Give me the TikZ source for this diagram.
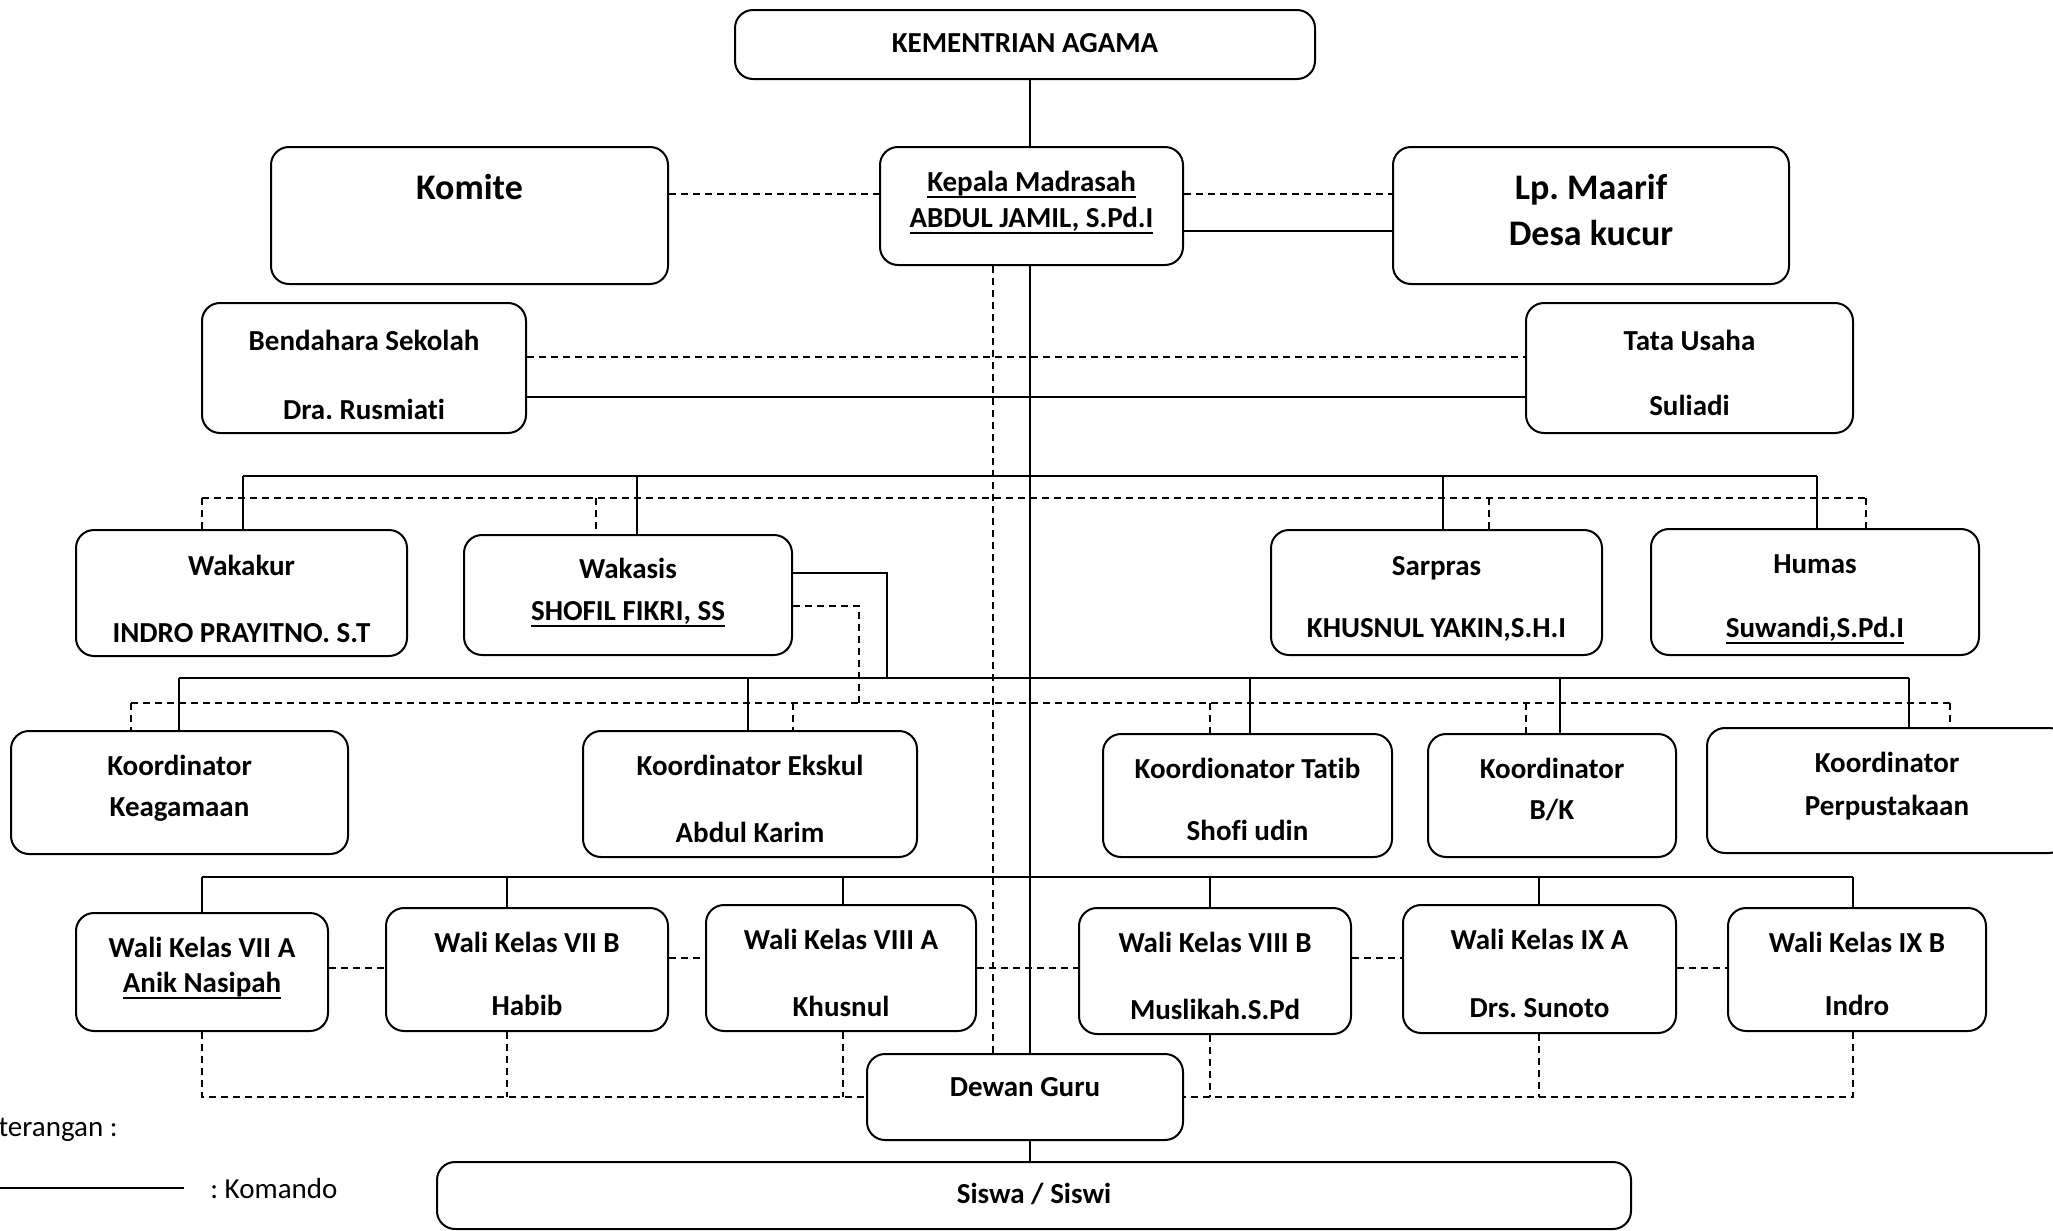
\documentclass[tikz,border=0pt]{standalone}
\usepackage{fontspec}
\setmainfont[Ligatures=NoCommon]{Carlito}
\frenchspacing
\newcommand{\garisbawah}[1]{\setbox0\hbox{#1}\rlap{\vrule height -2.4pt depth 3.3pt width \wd0}\box0}
\begin{document}
\begin{tikzpicture}[x=0.5pt, y=-0.5pt,
    box/.style={draw, line width=1pt, rounded corners=9pt, inner sep=0pt},
    txt/.style={anchor=base, inner sep=0pt, font=\fontsize{14.5}{17}\selectfont\bfseries},
    besar/.style={txt, font=\fontsize{18}{21}\selectfont\bfseries},
    biasa/.style={txt, font=\fontsize{14.5}{17}\selectfont},
    garis/.style={line width=0.7pt},
    putus/.style={line width=0.6pt, dash pattern=on 3.5pt off 2.5pt}]
  \useasboundingbox (0,0) rectangle (2053,1231);
  % kotak
  \node[box, minimum width=290pt, minimum height=34.5pt] (kemenag) at (1025,44.5) {};
  \node[box, minimum width=151.5pt, minimum height=59pt] (kepala) at (1031.5,206) {};
  \node[box, minimum width=198.5pt, minimum height=68.5pt] (komite) at (469.5,215.5) {};
  \node[box, minimum width=198pt, minimum height=68.5pt] (maarif) at (1591,215.5) {};
  \node[box, minimum width=162pt, minimum height=65pt] (bendahara) at (364,368) {};
  \node[box, minimum width=163.5pt, minimum height=65pt] (tu) at (1689.5,368) {};
  \node[box, minimum width=165.5pt, minimum height=63pt] (wakakur) at (241.5,593) {};
  \node[box, minimum width=164pt, minimum height=60pt] (wakasis) at (628,595) {};
  \node[box, minimum width=165.5pt, minimum height=62.5pt] (sarpras) at (1436.5,592.5) {};
  \node[box, minimum width=164pt, minimum height=63pt] (humas) at (1815,592) {};
  \node[box, minimum width=168.5pt, minimum height=61.5pt] (keagamaan) at (179.5,792.5) {};
  \node[box, minimum width=167pt, minimum height=63pt] (ekskul) at (750,794) {};
  \node[box, minimum width=144.5pt, minimum height=61.5pt] (tatib) at (1247.5,795.5) {};
  \node[box, minimum width=124pt, minimum height=61.5pt] (bk) at (1552,795.5) {};
  \node[box, minimum width=180pt, minimum height=62.5pt] (perpus) at (1887,790.5) {};
  \node[box, minimum width=126pt, minimum height=59pt] (viia) at (202,972) {};
  \node[box, minimum width=141pt, minimum height=61.5pt] (viib) at (527,969.5) {};
  \node[box, minimum width=135pt, minimum height=63pt] (viiia) at (841,968) {};
  \node[box, minimum width=136pt, minimum height=63pt] (viiib) at (1215,971) {};
  \node[box, minimum width=136.5pt, minimum height=64pt] (ixa) at (1539.5,969) {};
  \node[box, minimum width=129pt, minimum height=61.5pt] (ixb) at (1857,969.5) {};
  \node[box, minimum width=158pt, minimum height=43pt] (dewan) at (1025,1097) {};
  \node[box, minimum width=597pt, minimum height=33.5pt] (siswa) at (1034,1195.5) {};
  % tulisan
  \node[txt] at (1025,52) {KEMENTRIAN AGAMA};
  \node[txt] at (1031.5,191) {\garisbawah{Kepala Madrasah}};
  \node[txt] at (1031.5,227) {\garisbawah{ABDUL JAMIL, S.Pd.I}};
  \node[besar] at (469.5,199) {Komite};
  \node[besar] at (1591,199) {Lp. Maarif};
  \node[besar] at (1591,245) {Desa kucur};
  \node[txt] at (364,350) {Bendahara Sekolah};
  \node[txt] at (364,419) {Dra. Rusmiati};
  \node[txt] at (1689.5,350) {Tata Usaha};
  \node[txt] at (1689.5,415) {Suliadi};
  \node[txt] at (241.5,575) {Wakakur};
  \node[txt] at (241.5,642) {INDRO PRAYITNO. S.T};
  \node[txt] at (628,578) {Wakasis};
  \node[txt] at (628,620) {\garisbawah{SHOFIL FIKRI, SS}};
  \node[txt] at (1436.5,575) {Sarpras};
  \node[txt] at (1436.5,637) {KHUSNUL YAKIN,S.H.I};
  \node[txt] at (1815,573) {Humas};
  \node[txt] at (1815,637) {\garisbawah{Suwandi,S.Pd.I}};
  \node[txt] at (179.5,775) {Koordinator};
  \node[txt] at (179.5,816) {Keagamaan};
  \node[txt] at (750,775) {Koordinator Ekskul};
  \node[txt] at (750,842) {Abdul Karim};
  \node[txt] at (1247.5,778) {Koordionator Tatib};
  \node[txt] at (1247.5,840) {Shofi udin};
  \node[txt] at (1552,778) {Koordinator};
  \node[txt] at (1552,819) {B/K};
  \node[txt] at (1887,772) {Koordinator};
  \node[txt] at (1887,815) {Perpustakaan};
  \node[txt] at (202,957) {Wali Kelas VII A};
  \node[txt] at (202,992) {\garisbawah{Anik Nasipah}};
  \node[txt] at (527,952) {Wali Kelas VII B};
  \node[txt] at (527,1015) {Habib};
  \node[txt] at (841,949) {Wali Kelas VIII A};
  \node[txt] at (841,1016) {Khusnul};
  \node[txt] at (1215,952) {Wali Kelas VIII B};
  \node[txt] at (1215,1019) {Muslikah.S.Pd};
  \node[txt] at (1539.5,949) {Wali Kelas IX A};
  \node[txt] at (1539.5,1017) {Drs. Sunoto};
  \node[txt] at (1857,952) {Wali Kelas IX B};
  \node[txt] at (1857,1015) {Indro};
  \node[txt] at (1025,1096) {Dewan Guru};
  \node[txt] at (1034,1203) {Siswa / Siswi};
  % jalur
  \coordinate (b1) at (0,476);
  \coordinate (b1d) at (0,498);
  \coordinate (b2) at (0,678);
  \coordinate (b2d) at (0,703);
  \coordinate (b3) at (0,877);
  \begin{scope}[garis]
    \draw (kemenag.south -| 1030,0) -- (kepala.north -| 1030,0);
    \draw (kepala.south -| 1030,0) -- (dewan.north -| 1030,0);
    \draw (dewan.south -| 1030,0) -- (siswa.north -| 1030,0);
    \draw (kepala.east |- 0,231) -- (maarif.west |- 0,231);
    \draw (bendahara.east |- 0,397) -- (tu.west |- 0,397);
    \draw (b1 -| 243,0) -- (b1 -| 1817,0);
    \draw (b1 -| 243,0) -- (wakakur.north -| 243,0);
    \draw (b1 -| 637,0) -- (wakasis.north -| 637,0);
    \draw (b1 -| 1443,0) -- (sarpras.north -| 1443,0);
    \draw (b1 -| 1817,0) -- (humas.north -| 1817,0);
    \draw (wakasis.east |- 0,573) -| (b2 -| 887,0);
    \draw (b2 -| 179,0) -- (b2 -| 1909,0);
    \draw (b2 -| 179,0) -- (keagamaan.north -| 179,0);
    \draw (b2 -| 748,0) -- (ekskul.north -| 748,0);
    \draw (b2 -| 1250,0) -- (tatib.north -| 1250,0);
    \draw (b2 -| 1560,0) -- (bk.north -| 1560,0);
    \draw (b2 -| 1909,0) -- (perpus.north -| 1909,0);
    \draw (b3 -| 202,0) -- (b3 -| 1853,0);
    \draw (b3 -| 202,0) -- (viia.north -| 202,0);
    \draw (b3 -| 507,0) -- (viib.north -| 507,0);
    \draw (b3 -| 843,0) -- (viiia.north -| 843,0);
    \draw (b3 -| 1210,0) -- (viiib.north -| 1210,0);
    \draw (b3 -| 1539,0) -- (ixa.north -| 1539,0);
    \draw (b3 -| 1853,0) -- (ixb.north -| 1853,0);
  \end{scope}
  \begin{scope}[putus]
    \draw (komite.east |- 0,194) -- (kepala.west |- 0,194);
    \draw (kepala.east |- 0,194) -- (maarif.west |- 0,194);
    \draw (bendahara.east |- 0,357) -- (tu.west |- 0,357);
    \draw (kepala.south -| 993,0) -- (dewan.north -| 993,0);
    \draw (b1d -| 202,0) -- (b1d -| 1866,0);
    \draw (b1d -| 202,0) -- (wakakur.north -| 202,0);
    \draw (b1d -| 596,0) -- (wakasis.north -| 596,0);
    \draw (b1d -| 1489,0) -- (sarpras.north -| 1489,0);
    \draw (b1d -| 1866,0) -- (humas.north -| 1866,0);
    \draw (wakasis.east |- 0,606) -| (b2d -| 859,0);
    \draw (b2d -| 131,0) -- (b2d -| 1950,0);
    \draw (b2d -| 131,0) -- (keagamaan.north -| 131,0);
    \draw (b2d -| 793,0) -- (ekskul.north -| 793,0);
    \draw (b2d -| 1210,0) -- (tatib.north -| 1210,0);
    \draw (b2d -| 1526,0) -- (bk.north -| 1526,0);
    \draw (b2d -| 1950,0) -- (perpus.north -| 1950,0);
    \draw (viia.east |- 0,968) -- (viib.west |- 0,968);
    \draw (viib.east |- 0,958) -- (viiia.west |- 0,958);
    \draw (viiia.east |- 0,968) -- (viiib.west |- 0,968);
    \draw (viiib.east |- 0,958) -- (ixa.west |- 0,958);
    \draw (ixa.east |- 0,968) -- (ixb.west |- 0,968);
    \draw (viia.south -| 202,0) |- (dewan.west);
    \draw (viib.south -| 507,0) -- (dewan.west -| 507,0);
    \draw (viiia.south -| 843,0) -- (dewan.west -| 843,0);
    \draw (ixb.south -| 1853,0) |- (dewan.east);
    \draw (viiib.south -| 1210,0) -- (dewan.east -| 1210,0);
    \draw (ixa.south -| 1539,0) -- (dewan.east -| 1539,0);
  \end{scope}
  % keterangan
  \coordinate (leg1) at (0,1188);
  \coordinate (leg2) at (184,1188);
  \draw[garis] (leg1) -- (leg2);
  \node[biasa, anchor=base east] (ket) at (118,1136) {terangan :};
  \node[biasa, anchor=base west] (komando) at (210,1198) {: Komando};
\end{tikzpicture}
\end{document}
